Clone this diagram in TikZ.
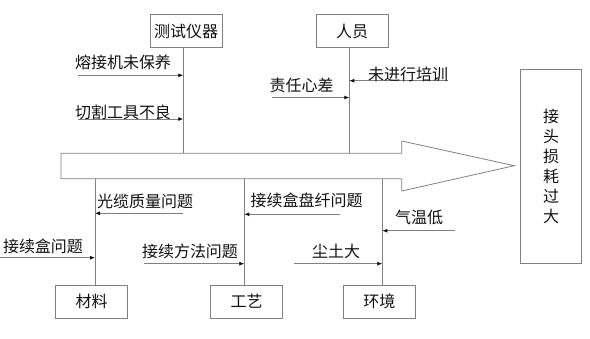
\documentclass[tikz,border=0pt]{standalone}
\usepackage{fontspec}
\setmainfont{Noto Sans CJK SC}
\usepackage{tikz}
\usetikzlibrary{arrows.meta,positioning,calc}
\definecolor{rule}{HTML}{808080}
\definecolor{ink}{HTML}{111111}

\tikzset{
  catbox/.style={draw=rule,line width=0.8pt,minimum width=72pt,minimum height=33pt,inner sep=0pt,font=\fontsize{16}{18}\selectfont,text=ink},
  effbox/.style={draw=rule,line width=0.8pt,minimum width=61pt,minimum height=194pt,inner sep=0pt,align=center,font=\fontsize{16}{20}\selectfont,text=ink},
  lbl/.style={inner sep=0pt,font=\fontsize{16}{18}\selectfont,text=ink},
  spine/.style={rule,line width=0.8pt},
  cause/.style={rule,line width=0.8pt,-{Latex[length=5pt,width=4pt,color=ink]}}
}

\begin{document}
\begin{tikzpicture}[x=1pt,y=-1pt]
  \useasboundingbox (0,0) rectangle (590,339);

  % main arrow
  \draw[rule,line width=0.8pt] (61,153.3) -- (401.7,153.3) -- (401.7,141) -- (514.3,165.7)
    -- (401.7,191) -- (401.7,178.7) -- (61,178.7) -- cycle;

  % categories
  \node[catbox] (yiqi) at (186,31) {测试仪器};
  \node[catbox] (renyuan) at (352,31) {人员};
  \node[catbox] (cailiao) at (91.7,301.7) {材料};
  \node[catbox] (gongyi) at (246.7,301.7) {工艺};
  \node[catbox] (huanjing) at (379.3,301.7) {环境};
  \node[effbox] (effect) at (551,166) {接\\头\\损\\耗\\过\\大};

  % spines onto the arrow
  \coordinate (p1) at (183.3,153.3);
  \coordinate (p2) at (349.3,153.3);
  \coordinate (p3) at (95,178.7);
  \coordinate (p4) at (244.3,178.7);
  \coordinate (p5) at (382.3,178.7);
  \draw[spine] (p1) -- (p1 |- yiqi.south);
  \draw[spine] (p2) -- (p2 |- renyuan.south);
  \draw[spine] (p3) -- (p3 |- cailiao.north);
  \draw[spine] (p4) -- (p4 |- gongyi.north);
  \draw[spine] (p5) -- (p5 |- huanjing.north);

  % causes: free end / spine / label
  \foreach \i/\x/\y/\s/\lx/\ly/\t in {
      1/78/75.3/p1/123/62.3/熔接机未保养,
      2/78/119/p1/123/112.5/切割工具不良,
      3/271.7/97.5/p2/301.5/85.7/责任心差,
      4/448/80.7/p2/408/74/未进行培训,
      5/183/213.3/p3/145/201.7/光缆质量问题,
      6/0/257.7/p3/43/246.7/接续盒问题,
      7/340/214.3/p4/306.7/200.5/接续盒盘纤问题,
      8/144/263.7/p4/190/251/接续方法问题,
      9/455/230.7/p5/419/217.7/气温低,
      10/294/263.7/p5/336/251/尘土大} {
    \coordinate (c\i) at (\x,\y);
    \draw[cause] (c\i) -- (c\i -| \s);
    \node[lbl] (t\i) at (\lx,\ly) {\t};
  }
\end{tikzpicture}
\end{document}
